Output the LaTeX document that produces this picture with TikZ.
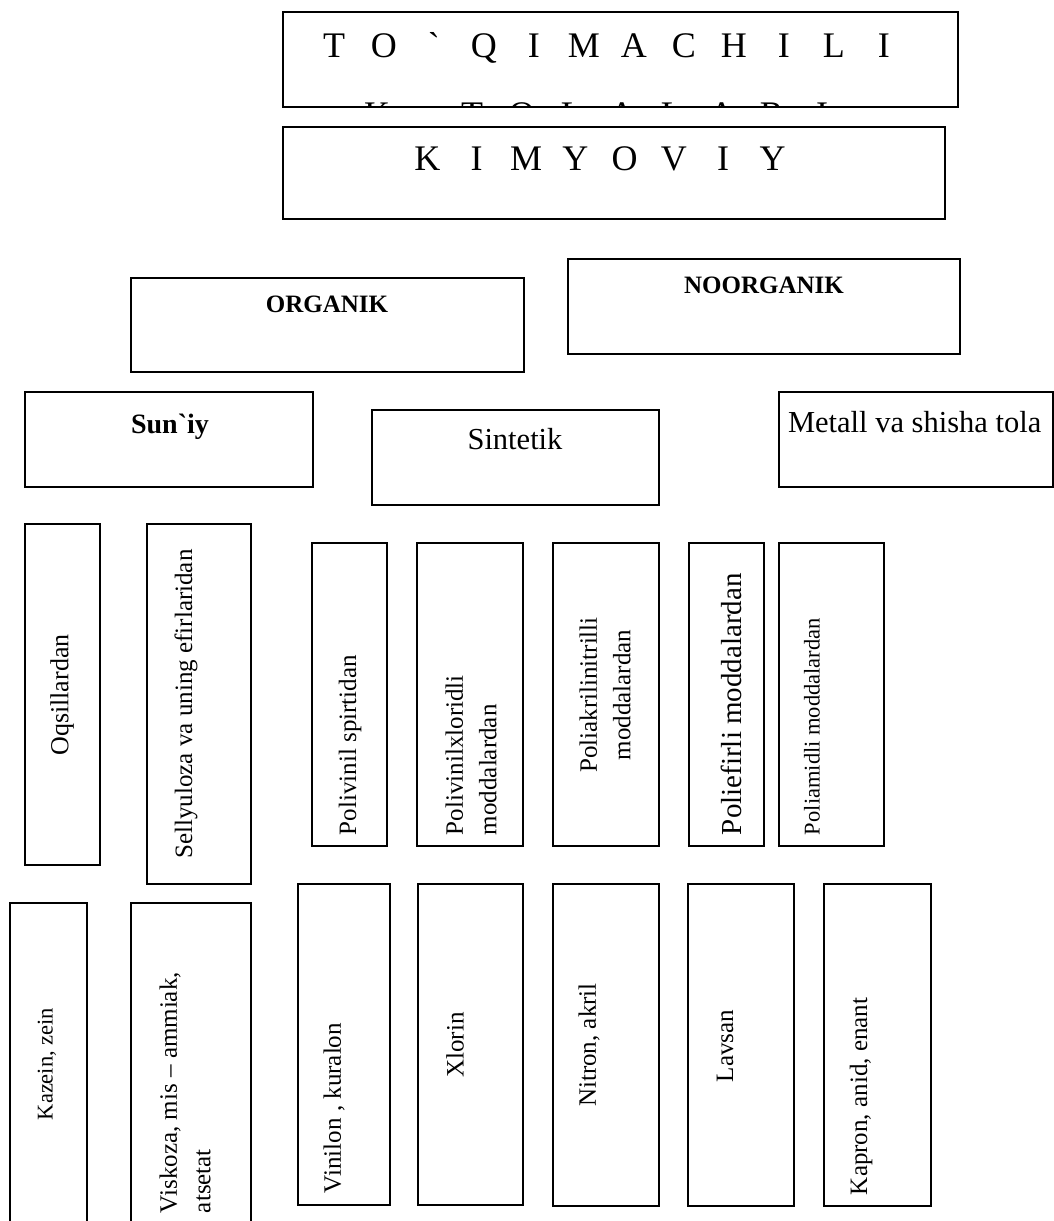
\documentclass[tikz,border=0pt]{standalone}
\usepackage{fontspec}
\setmainfont{Liberation Serif}
% evenly pitched capitals for the spaced-out headings
\newcommand\tlet[1]{\makebox[50pt]{#1}}
\newcommand\klet[1]{\makebox[49.3pt]{#1}}
% \drawpanel{name}{x1}{y1}{x2}{y2}: framed rectangle between two corners
\newcommand\drawpanel[5]{\node[frame, minimum width={(#4)-(#2)}, minimum height={(#5)-(#3)}] (#1) at ({((#2)+(#4))/2},{((#3)+(#5))/2}) {};}
\begin{document}
\begin{tikzpicture}[x=1pt, y=-1pt,
  frame/.style={draw=black, line width=1.7pt, rectangle, inner sep=0pt, outer sep=0pt},
  lbl/.style={inner sep=0pt, outer sep=0pt, text=black},
  up/.style={rotate=90},
  s22/.style={font=\fontsize{22.5}{30}\selectfont},
  s25/.style={font=\fontsize{25}{33.5}\selectfont},
  s26/.style={font=\fontsize{26}{34}\selectfont},
  s29/.style={font=\fontsize{29}{36}\selectfont},
  s30/.style={font=\fontsize{30.5}{37}\selectfont},
  s36/.style={font=\fontsize{36}{43}\selectfont},
  b25/.style={font=\fontsize{25}{30}\selectfont\bfseries},
  b28/.style={font=\fontsize{28}{34}\selectfont\bfseries},
]
\clip (0,0) rectangle (1054,1221);
\fill[white] (0,0) rectangle (1054,1221);

% ---- heading: second line is cut off by the frame ----
\begin{scope}
  \clip (283,12) rectangle (958,107);
  \node[lbl, s36, anchor=base] (title-a) at (609,57)
    {\tlet{T}\tlet{O}\tlet{\textasciigrave}\tlet{Q}\tlet{I}\tlet{M}\tlet{A}\tlet{C}\tlet{H}\tlet{I}\tlet{L}\tlet{I}};
  \node[lbl, s36, anchor=base] (title-b) at (377,126) {K};
  \node[lbl, s36, anchor=base] (title-c) at (647,126)
    {\tlet{T}\tlet{O}\tlet{L}\tlet{A}\tlet{L}\tlet{A}\tlet{R}\tlet{I}};
\end{scope}
\drawpanel{title}{283}{12}{958}{107}

\drawpanel{kimyo}{283}{127}{945}{219}
\node[lbl, s36, anchor=base] (kimyo-t) at (600,170)
  {\klet{K}\klet{I}\klet{M}\klet{Y}\klet{O}\klet{V}\klet{I}\klet{Y}};

% ---- organic / inorganic ----
\drawpanel{org}{131}{278}{524}{372}
\node[lbl, b25, anchor=base] (org-t) at (327,312) {ORGANIK};
\drawpanel{noorg}{568}{259}{960}{354}
\node[lbl, b25, anchor=base] (noorg-t) at (764,293) {NOORGANIK};

% ---- third row ----
\drawpanel{suniy}{25}{392}{313}{487}
\node[lbl, b28, anchor=base] (suniy-t) at (170,433) {Sun\textasciigrave iy};
\drawpanel{sint}{372}{410}{659}{505}
\node[lbl, s30, anchor=base] (sint-t) at (515,449) {Sintetik};
\drawpanel{metall}{779}{392}{1053}{487}
\node[lbl, s30, anchor=base west] (metall-t) at (788,432) {Metall va shisha tola};

% ---- raw materials (vertical captions) ----
\drawpanel{oqs}{25}{524}{100}{865}
\node[lbl, s26, up] (oqs-t) at (62,695) {Oqsillardan};
\drawpanel{sel}{147}{524}{251}{884}
\node[lbl, s25, up] (sel-t) at (186,704) {Sellyuloza va uning efirlaridan};
\drawpanel{pvs}{312}{543}{387}{846}
\node[lbl, s25, up, anchor=west] (pvs-t) at (350,835) {Polivinil spirtidan};
\drawpanel{pvx}{417}{543}{523}{846}
\node[lbl, s25, up, anchor=west, align=left] (pvx-t) at (471,835) {Polivinilxloridli\\moddalardan};
\drawpanel{pan}{553}{543}{659}{846}
\node[lbl, s25, up, align=center] (pan-t) at (605,695) {Poliakrilinitrilli\\moddalardan};
\drawpanel{pef}{689}{543}{764}{846}
\node[lbl, s29, up, anchor=west] (pef-t) at (731,835) {Poliefirli moddalardan};
\drawpanel{pam}{779}{543}{884}{846}
\node[lbl, s22, up, anchor=west] (pam-t) at (812,835) {Poliamidli moddalardan};

% ---- fibres (vertical captions) ----
\drawpanel{kaz}{10}{903}{87}{1240}
\node[lbl, s22, up] (kaz-t) at (47,1064) {Kazein, zein};
\drawpanel{vis}{131}{903}{251}{1240}
\node[lbl, s25, up, anchor=west, align=left] (vis-t) at (185,1213) {Viskoza, mis – ammiak,\\atsetat};
\drawpanel{vin}{298}{884}{390}{1205}
\node[lbl, s25, up, anchor=west] (vin-t) at (334,1193) {Vinilon , kuralon};
\drawpanel{xlo}{418}{884}{523}{1205}
\node[lbl, s25, up] (xlo-t) at (455,1045) {Xlorin};
\drawpanel{nit}{553}{884}{659}{1206}
\node[lbl, s25, up] (nit-t) at (589,1045) {Nitron, akril};
\drawpanel{lav}{688}{884}{794}{1206}
\node[lbl, s25, up] (lav-t) at (725,1046) {Lavsan};
\drawpanel{kap}{824}{884}{931}{1206}
\node[lbl, s25, up, anchor=west] (kap-t) at (861,1195) {Kapron, anid, enant};
\end{tikzpicture}
\end{document}
